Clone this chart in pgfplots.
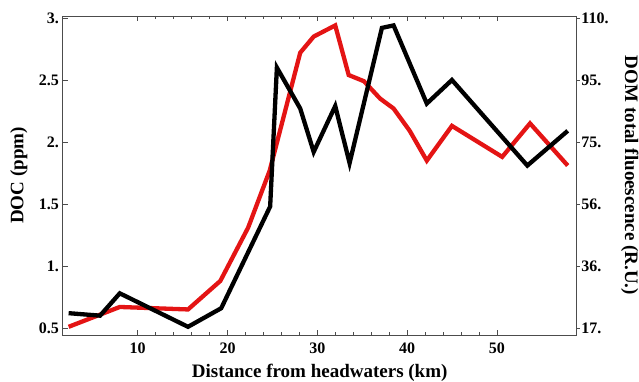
\documentclass[border=0pt]{standalone}
\usepackage{pgfplots}
\pgfplotsset{compat=1.18}
\usepackage{fontspec}
\setmainfont{Liberation Serif}
\usetikzlibrary{calc}
\definecolor{docred}{RGB}{228,20,20}
\begin{document}
\begin{tikzpicture}
\pgfplotsset{
  common/.style={
    scale only axis, width=514pt, height=319pt,
    xmin=1.64, xmax=58.9, ymin=0.444, ymax=3.016,
    axis line style={black!70, line width=0.7pt},
    every tick/.style={black!70, line width=0.6pt},
    /pgf/number format/assume math mode=true,
    tick label style={font=\fontsize{16}{16}\selectfont\bfseries},
    label style={font=\fontsize{19}{19}\selectfont\bfseries},
  }
}
\begin{axis}[common,
  xtick={10,20,30,40,50},
  xticklabels={10,20,30,40,50},
  minor x tick num=4,
  xtick pos=both,
  ytick={0.5,1,1.5,2,2.5,3},
  yticklabels={0.5,1.,1.5,2.,2.5,3.},
  ytick pos=left,
  tick align=inside,
  major tick length=5pt, minor tick length=3pt,
  xticklabel style={inner sep=0pt, anchor=north, yshift=-8pt},
  yticklabel style={inner sep=0pt, anchor=east, xshift=-3.5pt},
  xlabel={Distance from headwaters (km)},
  xlabel style={at={([yshift=-42pt]axis description cs:0.5,0)}, anchor=base},
  ylabel={DOC (ppm)},
  ylabel style={at={([xshift=-44pt]axis description cs:0,0.5)}, anchor=center},
]
\addplot[docred, line width=4.3pt, line join=miter] coordinates {
(2.3,0.51) (8.0,0.67) (15.6,0.65) (19.2,0.88) (22.3,1.31) (24.7,1.77)
(28.1,2.72) (29.6,2.85) (32.0,2.94) (33.5,2.54) (35.2,2.49) (37.0,2.35)
(38.5,2.27) (40.3,2.09) (42.2,1.85) (45.0,2.13) (50.6,1.88) (53.7,2.15)
(57.9,1.81)
};
\addplot[black, line width=4.3pt, line join=miter] coordinates {
(2.3,0.62) (5.8,0.60) (8.0,0.78) (15.6,0.51) (19.3,0.66) (24.75,1.48)
(25.5,2.60) (28.1,2.27) (29.6,1.92) (32.0,2.29) (33.6,1.83) (37.2,2.92)
(38.5,2.94) (42.2,2.31) (45.0,2.50) (53.4,1.81) (57.9,2.09)
};
\end{axis}
\begin{axis}[common,
  axis x line=none,
  axis y line*=right,
  ytick={0.5,1,1.5,2,2.5,3},
  yticklabels={17.,36.,56.,75.,95.,110.},
  tick align=outside,
  major tick length=3pt,
  yticklabel style={inner sep=0pt, anchor=west, xshift=1.5pt},
  ylabel={DOM total fluoescence (R.U.)},
  ylabel style={at={([xshift=53pt]axis description cs:1,0.5)}, anchor=center, rotate=180},
]
\end{axis}
\pgfresetboundingbox
\useasboundingbox ($(current axis.south west)+(-62.7pt,-47pt)$) rectangle ($(current axis.north east)+(62.3pt,16pt)$);
\end{tikzpicture}
\end{document}
